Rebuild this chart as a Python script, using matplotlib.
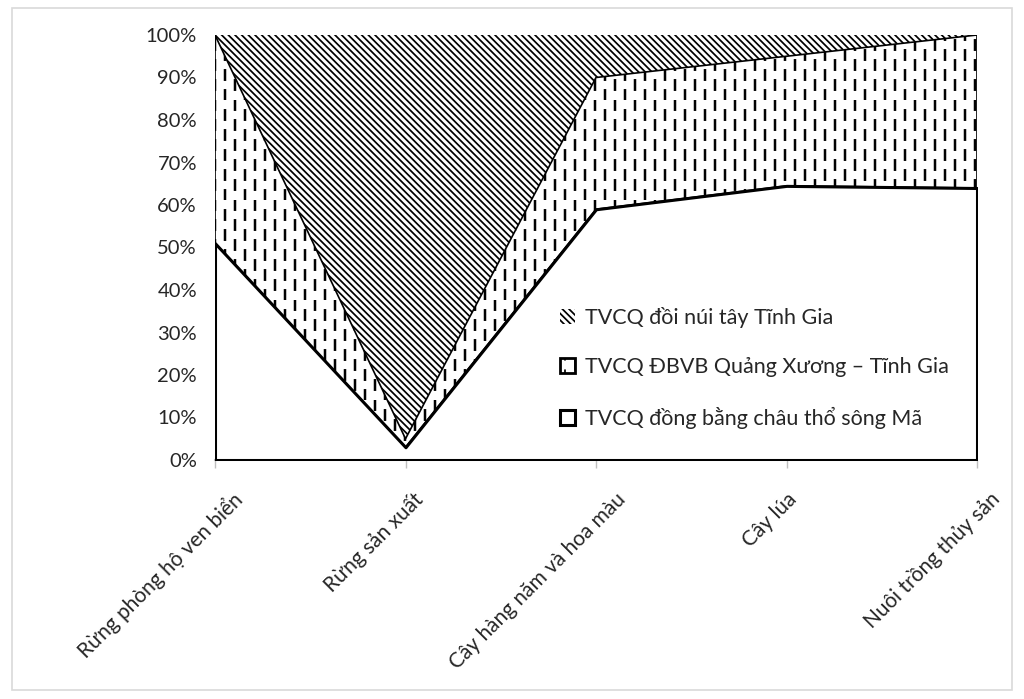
import numpy as np
import matplotlib
matplotlib.use("Agg")
import matplotlib.pyplot as plt
import matplotlib.hatch as mhatch
from matplotlib.path import Path
from matplotlib.patches import Rectangle
from matplotlib.ticker import PercentFormatter
from matplotlib.font_manager import FontProperties

categories = ["Rừng phòng hộ ven biển", "Rừng sản xuất", "Cây hàng năm và hoa màu",
              "Cây lúa", "Nuôi trồng thủy sản"]
series_names = ["TVCQ đồng bằng châu thổ sông Mã",
                "TVCQ ĐBVB Quảng Xương – Tĩnh Gia",
                "TVCQ đồi núi tây Tĩnh Gia"]
dong_bang = [51, 3, 59, 64.5, 64]
dbvb = [49, 2, 31, 30.5, 36]
doi_nui = [0, 95, 10, 5, 0]
y_ticks = [0, 10, 20, 30, 40, 50, 60, 70, 80, 90, 100]


class DashedVerticalHatch(mhatch.HatchPatternBase):
    """Staggered short vertical dashes (replaces '|')."""
    def __init__(self, hatch, density):
        self.num_cols = 10 if hatch.count('|') else 0
        self.num_rows = 5
        self.num_vertices = self.num_cols * self.num_rows * 2

    def set_vertices_and_codes(self, vertices, codes):
        k = 0
        for i in range(self.num_cols):
            x = (i + 0.5) / self.num_cols
            off = 0.0 if i % 2 == 0 else 0.5 / self.num_rows
            for j in range(self.num_rows):
                y0 = j / self.num_rows + off + 0.003
                y1 = y0 + 0.094
                vertices[k] = (x, y0)
                vertices[k + 1] = (x, y1)
                codes[k] = Path.MOVETO
                codes[k + 1] = Path.LINETO
                k += 2


mhatch._hatch_types[:] = [DashedVerticalHatch if t is mhatch.VerticalHatch else t
                          for t in mhatch._hatch_types]

FAMILY = ['Lato', 'DejaVu Sans']
plt.rcParams['font.family'] = FAMILY
plt.rcParams['hatch.color'] = 'black'
TXT = '#262626'

fig = plt.figure(figsize=(10.24, 6.99), dpi=100)
ax = fig.add_axes([215 / 1024, 1 - 460 / 699, (977 - 215) / 1024, (460 - 35) / 699])

x = np.arange(len(categories))
v1 = np.array(dong_bang, dtype=float)
v2 = np.array(dbvb, dtype=float)
v3 = np.array(doi_nui, dtype=float)
c1 = v1
c2 = v1 + v2
c3 = c2 + v3


def set_hlw(artist, lw):
    if hasattr(artist, 'set_hatch_linewidth'):
        artist.set_hatch_linewidth(lw)


p1 = ax.fill_between(x, 0, c1, facecolor='white', edgecolor='black', linewidth=2.2,
                     label=series_names[0], zorder=3)
plt.rcParams['hatch.linewidth'] = 1.8
p2 = ax.fill_between(x, c1, c2, facecolor='white', edgecolor='black', linewidth=1.2,
                     hatch='|', label=series_names[1], zorder=2)
set_hlw(p2, 1.8)
plt.rcParams['hatch.linewidth'] = 1.25
p3 = ax.fill_between(x, c2, c3, facecolor='white', edgecolor='black', linewidth=0,
                     hatch='\\\\\\\\\\', label=series_names[2], zorder=1)
set_hlw(p3, 1.25)

ax.set_xlim(0, len(categories) - 1)
ax.set_ylim(0, 100)
ax.set_yticks(y_ticks)
ax.yaxis.set_major_formatter(PercentFormatter(100, decimals=0))
ax.set_xticks(x)
ax.set_xticklabels([])

for s in ['top', 'right', 'left']:
    ax.spines[s].set_visible(False)
ax.spines['bottom'].set_color('#bfbfbf')
ax.spines['bottom'].set_linewidth(1.5)
ax.spines['bottom'].set_zorder(0)
ax.tick_params(axis='y', length=0, pad=13, labelsize=14.5, labelcolor=TXT)
ax.tick_params(axis='x', length=6, width=1, color='#bfbfbf')

# rotated category labels (Excel-like placement)
fp = FontProperties(family=FAMILY, size=15)
fig.canvas.draw()
renderer = fig.canvas.get_renderer()
for xi, lab in zip(x, categories):
    w, h, d = renderer.get_text_width_height_descent(lab, fp, ismath=False)
    dx_px = 0.11 * w
    ax.annotate(lab, xy=(xi, 0), xycoords=('data', 'axes fraction'),
                xytext=(dx_px * 0.72, -36 * 0.72), textcoords='offset points',
                rotation=45, rotation_mode='anchor', ha='right', va='center',
                fontproperties=fp, color=TXT, annotation_clip=False)

handles = [p3, p2, p1]
leg = fig.legend(handles, [h.get_label() for h in handles],
                 loc='center left', bbox_to_anchor=(549 / 1024, 1 - 368 / 699),
                 bbox_transform=fig.transFigure, frameon=False, fontsize=15.5,
                 handlelength=0.7, handleheight=0.7, handletextpad=0.45,
                 labelspacing=1.35, borderpad=0)
for t in leg.get_texts():
    t.set_color(TXT)
leg_handles = getattr(leg, 'legend_handles', None) or getattr(leg, 'legendHandles', [])
if len(leg_handles) == 3:
    leg_handles[1].set_linewidth(2.0)

fig.patches.append(Rectangle((12 / 1024, 1 - 690 / 699), 1000 / 1024, 682 / 699,
                             transform=fig.transFigure, fill=False,
                             edgecolor='#d9d9d9', linewidth=1.2))

fig.savefig('out.png', dpi=100)
